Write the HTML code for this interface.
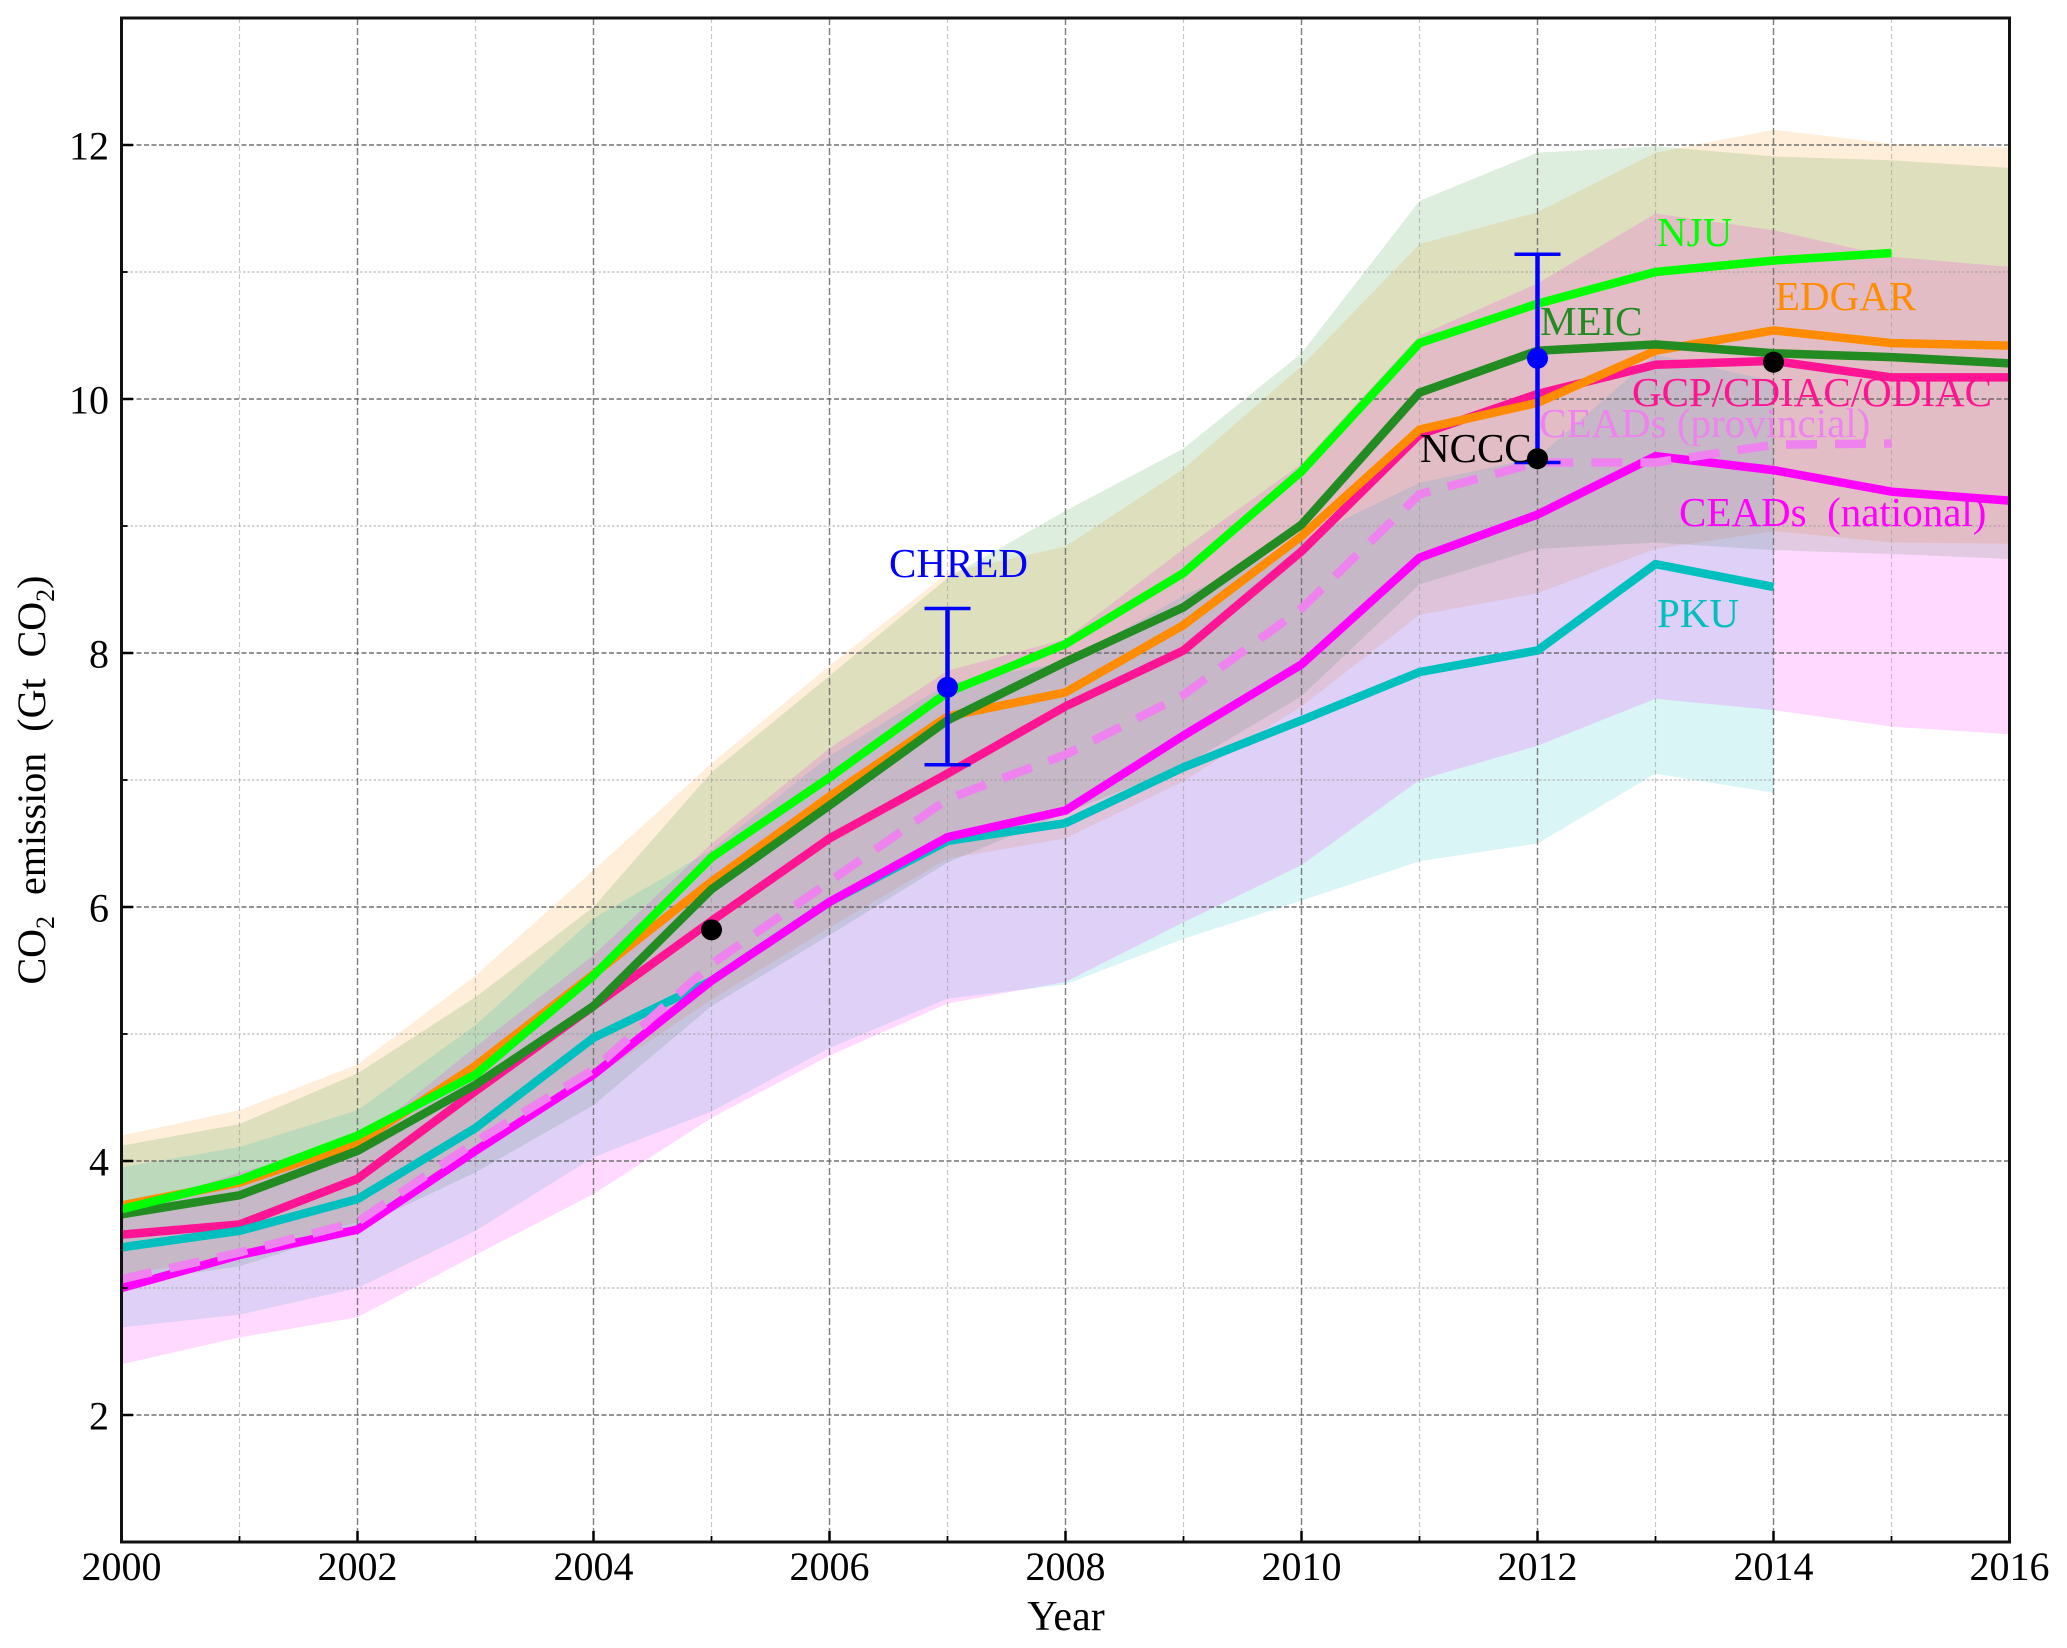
<!DOCTYPE html>
<html lang="en">
<head>
<meta charset="utf-8">
<title>CO2 emission estimates</title>
<style>
html,body{margin:0;padding:0;background:#fff;width:2067px;height:1648px;overflow:hidden}
svg{display:block}
text{font-family:"Liberation Serif","Times New Roman",serif}
</style>
</head>
<body>
<svg id="chart" xmlns="http://www.w3.org/2000/svg" width="2067" height="1648" viewBox="0 0 2067 1648">
  <defs><clipPath id="plot-clip"><rect x="121.5" y="18" width="1888" height="1524"/></clipPath></defs>
  <rect x="0" y="0" width="2067" height="1648" fill="#ffffff"/>
  <g id="bands" clip-path="url(#plot-clip)"></g>
  <g id="grid"></g>
  <g id="lines" clip-path="url(#plot-clip)"></g>
  <g id="points"></g>
  <g id="labels"></g>
  <g id="axes"></g>
  <text x="1066" y="1630" font-size="42" text-anchor="middle" fill="#000">Year</text>
  <text transform="translate(45,780) rotate(-90)" font-size="40" text-anchor="middle" word-spacing="11" fill="#000">CO<tspan font-size="26" dy="9">2</tspan><tspan dy="-9"> emission (Gt CO</tspan><tspan font-size="26" dy="9">2</tspan><tspan dy="-9">)</tspan></text>
</svg>
<script>
const years = [2000,2001,2002,2003,2004,2005,2006,2007,2008,2009,2010,2011,2012,2013,2014,2015,2016];
const xTicks = [2000,2002,2004,2006,2008,2010,2012,2014,2016];
const xMinorTicks = [2001,2003,2005,2007,2009,2011,2013,2015];
const yTicks = [2,4,6,8,10,12];
const yMinorTicks = [1,3,5,7,9,11];

const edgarValues = [3.65,3.83,4.14,4.75,5.47,6.2,6.87,7.5,7.69,8.22,8.92,9.76,9.97,10.38,10.54,10.44,10.42];
const edgarHigh = [4.20,4.40,4.76,5.46,6.29,7.13,7.90,8.63,8.84,9.45,10.26,11.22,11.47,11.94,12.12,12.01,11.98];
const edgarLow = [3.10,3.26,3.52,4.04,4.65,5.27,5.84,6.38,6.54,6.99,7.58,8.30,8.47,8.82,8.96,8.87,8.86];

const meicValues = [3.58,3.73,4.08,4.6,5.22,6.14,6.8,7.47,7.93,8.36,9.01,10.05,10.38,10.43,10.36,10.33,10.28];
const meicHigh = [4.12,4.29,4.69,5.29,6.00,7.06,7.82,8.59,9.12,9.61,10.36,11.56,11.94,11.99,11.91,11.88,11.82];
const meicLow = [3.04,3.17,3.47,3.91,4.44,5.22,5.78,6.35,6.74,7.11,7.66,8.54,8.82,8.87,8.81,8.78,8.74];

const pkuValues = [3.32,3.45,3.7,4.26,4.97,5.42,6.04,6.52,6.66,7.1,7.47,7.85,8.02,8.7,8.52];
const pkuHigh = [3.95,4.11,4.40,5.07,5.91,6.45,7.19,7.76,7.93,8.45,8.89,9.34,9.54,10.35,10.14];
const pkuLow = [2.69,2.79,3.00,3.45,4.03,4.39,4.89,5.28,5.39,5.75,6.05,6.36,6.50,7.05,6.90];

const nationalValues = [3.0,3.26,3.46,4.08,4.68,5.42,6.04,6.55,6.76,7.35,7.91,8.75,9.09,9.55,9.44,9.27,9.2];
const nationalHigh = [3.60,3.91,4.15,4.90,5.62,6.50,7.25,7.86,8.11,8.82,9.49,10.50,10.91,11.46,11.33,11.12,11.04];
const nationalLow = [2.40,2.61,2.77,3.26,3.74,4.34,4.83,5.24,5.41,5.88,6.33,7.00,7.27,7.64,7.55,7.42,7.36];

const gcpValues = [3.42,3.5,3.86,4.55,5.22,5.89,6.54,7.05,7.58,8.02,8.8,9.72,10.04,10.27,10.3,10.17,10.17];
const provincialValues = [3.07,3.28,3.52,4.15,4.72,5.55,6.2,6.85,7.2,7.67,8.35,9.25,9.5,9.5,9.64,9.65];
const njuValues = [3.62,3.85,4.2,4.68,5.46,6.39,7.02,7.69,8.07,8.63,9.43,10.44,10.75,11.0,11.09,11.15];

const chredYear = 2007;
const chredValue = 7.73;
const chredLow = 7.12;
const chredHigh = 8.35;
const ncccYears = [2005,2012,2014];
const ncccValues = [5.82,9.53,10.29];
const secondErrorYear = 2012;
const secondErrorValue = 10.32;
const secondErrorLow = 9.5;
const secondErrorHigh = 11.14;

const SVGNS = 'http://www.w3.org/2000/svg';
function xs(year){ return 121.5 + (year - 2000) * 118; }
function ys(v){ return 18 + (13 - v) * 127; }
function mk(tag, parent, attrs){
  const el = document.createElementNS(SVGNS, tag);
  for (const k in attrs) el.setAttribute(k, attrs[k]);
  parent.appendChild(el);
  return el;
}
const bandsG = document.getElementById('bands');
const gridG = document.getElementById('grid');
const linesG = document.getElementById('lines');
const pointsG = document.getElementById('points');
const labelsG = document.getElementById('labels');
const axesG = document.getElementById('axes');

function drawBand(name, low, high, color){
  const up = high.map((v,i)=>xs(years[i]).toFixed(2)+','+ys(v).toFixed(2));
  const dn = low.map((v,i)=>xs(years[i]).toFixed(2)+','+ys(v).toFixed(2)).reverse();
  const el = mk('polygon', bandsG, {points: up.concat(dn).join(' '), fill: color, 'fill-opacity': 0.15});
  
  
}
drawBand('edgar-band', edgarLow, edgarHigh, '#ff8c00');
drawBand('meic-band', meicLow, meicHigh, '#228b22');
drawBand('pku-band', pkuLow, pkuHigh, '#00bfbf');
drawBand('ceads-national-band', nationalLow, nationalHigh, '#ff00ff');

xMinorTicks.forEach(t=>{
  const el = mk('line', gridG, {x1:xs(t),x2:xs(t),y1:18,y2:1542,stroke:'#999','stroke-opacity':0.55,'stroke-width':1.2,'stroke-dasharray':'5 3'});
  
  
});
yMinorTicks.forEach(t=>{
  const el = mk('line', gridG, {x1:121.5,x2:2009.5,y1:ys(t),y2:ys(t),stroke:'#999','stroke-opacity':0.55,'stroke-width':1.4,'stroke-dasharray':'2.5 2'});
  
  
});
xTicks.forEach(t=>{
  const el = mk('line', gridG, {x1:xs(t),x2:xs(t),y1:18,y2:1542,stroke:'#666','stroke-opacity':0.85,'stroke-width':1.4,'stroke-dasharray':'7 3'});
  
  
});
yTicks.forEach(t=>{
  const el = mk('line', gridG, {x1:121.5,x2:2009.5,y1:ys(t),y2:ys(t),stroke:'#666','stroke-opacity':0.8,'stroke-width':1.8,'stroke-dasharray':'5 2.5'});
  
  
});

function drawLine(name, values, color, dash){
  const pts = values.map((v,i)=>xs(years[i]).toFixed(2)+','+ys(v).toFixed(2)).join(' ');
  const attrs = {points: pts, fill:'none', stroke: color, 'stroke-width': 8.5, 'stroke-linejoin':'miter', 'stroke-linecap':'butt'};
  if (dash) attrs['stroke-dasharray'] = dash;
  const el = mk('polyline', linesG, attrs);
  
  
}
drawLine('gcp-cdiac-odiac-line', gcpValues, '#ff1493');
drawLine('pku-line', pkuValues, '#00bfbf');
drawLine('ceads-national-line', nationalValues, '#ff00ff');
drawLine('ceads-provincial-line', provincialValues, '#ee82ee', '31 18');
drawLine('edgar-line', edgarValues, '#ff8c00');
drawLine('meic-line', meicValues, '#228b22');
drawLine('nju-line', njuValues, '#00ff00');

function drawError(name, year, low, high, val){
  const x = xs(year);
  const stem = mk('line', pointsG, {x1:x,x2:x,y1:ys(high),y2:ys(low),stroke:'#0000ff','stroke-width':4.5});
  
  
  const capTop = mk('line', pointsG, {x1:x-23,x2:x+23,y1:ys(high),y2:ys(high),stroke:'#0000ff','stroke-width':3.5});
  
  
  const capBottom = mk('line', pointsG, {x1:x-23,x2:x+23,y1:ys(low),y2:ys(low),stroke:'#0000ff','stroke-width':3.5});
  
  
  const dot = mk('circle', pointsG, {cx:x,cy:ys(val),r:10.5,fill:'#0000ff'});
  
  
}
drawError('chred-2007', chredYear, chredLow, chredHigh, chredValue);
drawError('chred-2012', secondErrorYear, secondErrorLow, secondErrorHigh, secondErrorValue);
ncccValues.forEach((v,i)=>{
  const dot = mk('circle', pointsG, {cx:xs(ncccYears[i]),cy:ys(v),r:10.5,fill:'#000000'});
  
  
});

function drawLabel(name, text, x, y, color){
  const el = mk('text', labelsG, {x:x,y:y,'font-size':41,fill:color});
  el.textContent = text;
  
  
  return el;
}
drawLabel('nju-label', 'NJU', 1657, 246, '#00ff00');
drawLabel('edgar-label', 'EDGAR', 1775, 310, '#ff8c00');
drawLabel('meic-label', 'MEIC', 1540, 335, '#228b22');
drawLabel('gcp-label', 'GCP/CDIAC/ODIAC', 1632, 406, '#ff1493');
drawLabel('ceads-provincial-label', 'CEADs (provincial)', 1539, 437, '#ee82ee');
drawLabel('nccc-label', 'NCCC', 1420, 462, '#000000');
const nationalLabel = drawLabel('ceads-national-label', 'CEADs  (national)', 1679, 526, '#ff00ff');
nationalLabel.setAttribute('xml:space', 'preserve');
nationalLabel.setAttribute('style', 'white-space:pre');
drawLabel('pku-label', 'PKU', 1657, 627, '#00bfbf');
drawLabel('chred-label', 'CHRED', 889, 577, '#0000ff');

yTicks.forEach(t=>{
  const tick = mk('line', axesG, {x1:121.5,x2:133,y1:ys(t),y2:ys(t),stroke:'#000','stroke-width':2.5});
  
  
  const lab = mk('text', axesG, {x:109,y:ys(t)+14.5,'font-size':40,'text-anchor':'end',fill:'#000'});
  lab.textContent = String(t);
  
  
});
yMinorTicks.forEach(t=>{
  if (t === 1) return;
  const tick = mk('line', axesG, {x1:121.5,x2:127.5,y1:ys(t),y2:ys(t),stroke:'#000','stroke-width':1.8});
  
  
});
xTicks.forEach(t=>{
  const tick = mk('line', axesG, {x1:xs(t),x2:xs(t),y1:1531,y2:1542,stroke:'#000','stroke-width':2.5});
  
  
  const lab = mk('text', axesG, {x:xs(t),y:1580,'font-size':40,'text-anchor':'middle',fill:'#000'});
  lab.textContent = String(t);
  
  
});
xMinorTicks.forEach(t=>{
  const tick = mk('line', axesG, {x1:xs(t),x2:xs(t),y1:1536,y2:1542,stroke:'#000','stroke-width':1.8});
  
  
});
const frame = mk('rect', axesG, {x:121.5,y:18,width:1888,height:1524,fill:'none',stroke:'#111','stroke-width':3});


</script>
</body>
</html>
